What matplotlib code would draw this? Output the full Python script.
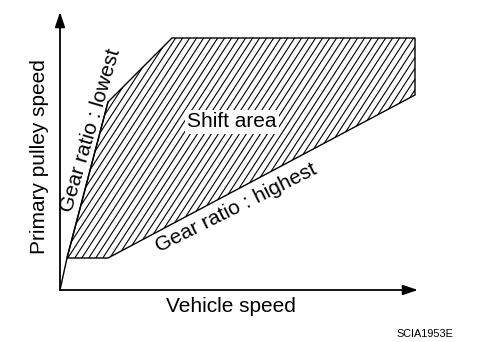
import numpy as np
import matplotlib
matplotlib.use("Agg")
import matplotlib.pyplot as plt
from matplotlib.patches import Polygon
from matplotlib.collections import LineCollection

plt.rcParams['font.family'] = ['Liberation Sans', 'DejaVu Sans']

# Shift-area boundary (vehicle speed, primary pulley speed) in arbitrary units
area_speed = [7, 48, 355, 355, 112, 48]
area_pulley = [32, 32, 195, 252, 252, 188]
# lowest-gear line from origin
lowest_speed = [0, 7, 48]
lowest_pulley = [0, 32, 188]

W, H = 496, 342
fig = plt.figure(figsize=(W / 100, H / 100), dpi=100)
ox, oy = 60, 290          # origin in pixels
xmax, ymax = 358, 278
ax = fig.add_axes([ox / W, (H - oy) / H, xmax / W, ymax / H])
ax.set_xlim(0, xmax)
ax.set_ylim(0, ymax)
ax.axis('off')

poly = Polygon(np.column_stack([area_speed, area_pulley]), closed=True,
               facecolor='white', edgecolor='black', lw=1.0)
ax.add_patch(poly)
ax.plot(lowest_speed, lowest_pulley, color='black', lw=1.0)

# hatch lines
ang = np.deg2rad(57)
spacing = 7.0
segs = []
for x0 in np.arange(-300, 400, spacing):
    segs.append([(x0, 0), (x0 + 300 / np.tan(ang), 300)])
lc = LineCollection(segs, colors='black', linewidths=0.8)
ax.add_collection(lc)
lc.set_clip_path(poly)

# axes arrows
ax.annotate('', xy=(xmax, 0), xytext=(0, 0),
            arrowprops=dict(arrowstyle='-|>,head_length=0.9,head_width=0.3', color='black', lw=1.3,
                            shrinkA=0, shrinkB=0), annotation_clip=False)
ax.annotate('', xy=(0, ymax), xytext=(0, 0),
            arrowprops=dict(arrowstyle='-|>,head_length=0.9,head_width=0.3', color='black', lw=1.3,
                            shrinkA=0, shrinkB=0), annotation_clip=False)

def px(x, y):
    return x / W, 1 - y / H

fs = 15
fig.text(*px(231, 307), 'Vehicle speed', fontsize=fs, ha='center', va='center')
fig.text(*px(40, 157), 'Primary pulley speed', fontsize=fs, rotation=90, ha='center', va='center')
fig.text(*px(232, 122), 'Shift area', fontsize=fs, ha='center', va='center',
         bbox=dict(facecolor='white', edgecolor='none', pad=1.5))
fig.text(*px(236, 208), 'Gear ratio : highest', fontsize=fs, rotation=26.5,
         ha='center', va='center', rotation_mode='anchor')
fig.text(*px(91, 130), 'Gear ratio : lowest', fontsize=fs, rotation=73.5,
         ha='center', va='center', rotation_mode='anchor')
fig.text(*px(425, 334), 'SCIA1953E', fontsize=7.8, ha='center', va='center')

fig.savefig('out.png', dpi=100)
